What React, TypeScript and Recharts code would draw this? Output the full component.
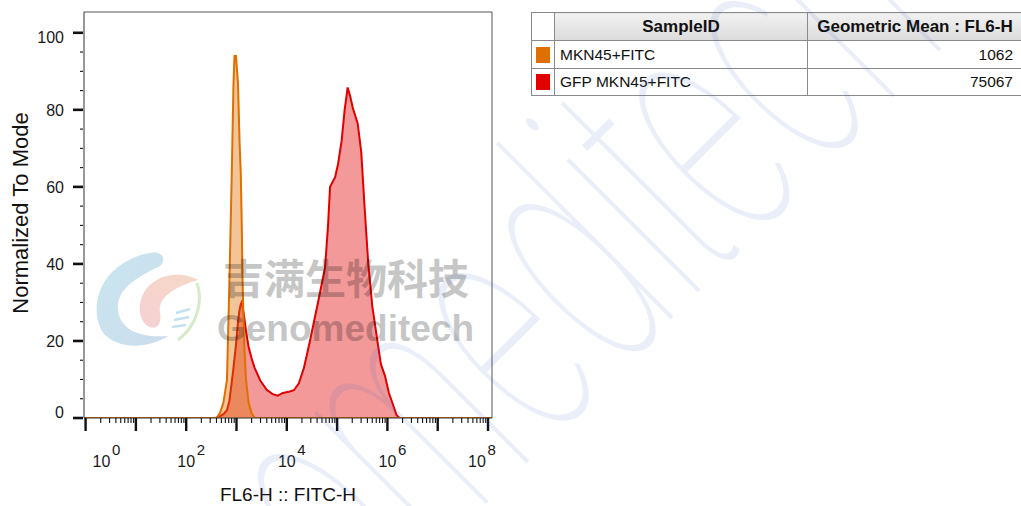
import React from "react";
import { AreaChart, Area, XAxis, YAxis, ReferenceLine } from "recharts";

// FL6-H :: FITC-H channel values (log axis) and the normalized counts
const fitcH = [
  0.93, 398, 468, 550, 646, 724, 813, 871, 912, 977,
  1072, 1148, 1216, 1274, 1318, 1413, 1549, 1738, 1995, 2291,
  2951, 3981, 5248, 6607, 8318, 10965, 13804, 17378, 21878, 28840,
  41687, 57544, 66069, 72444, 79433, 91201, 104713, 123027, 141254, 162181,
  181970, 204174, 257040, 301995, 354813, 416869, 501187, 616595, 741310, 891251,
  1071519, 1288250, 1513561, 1737801, 120226443,
];
const mknFitc = [
  0, 0, 1.3, 4, 9.8, 35.7, 66, 86.8, 94, 94,
  86.8, 72, 63.5, 50, 35.7, 20, 9.8, 4, 1.3, 0,
  0, 0, 0, 0, 0, 0, 0, 0, 0, 0,
  0, 0, 0, 0, 0, 0, 0, 0, 0, 0,
  0, 0, 0, 0, 0, 0, 0, 0, 0, 0,
  0, 0, 0, 0, 0,
];
const gfpMknFitc = [
  0, 0, 0.5, 1, 2, 4.5, 9.8, 13, 15.5, 19,
  25, 28, 29.5, 30.1, 29, 26.5, 22.5, 18.5, 15.5, 13,
  9.8, 7.3, 6.2, 5.8, 6.5, 6.8, 7.2, 9, 13, 20,
  30, 39, 50, 60, 61, 62.5, 66, 72, 80, 85.8,
  83.5, 80.6, 76.4, 69, 54, 40, 29, 21, 14, 11,
  6.5, 3.5, 0.8, 0, 0,
];

const sampleIds = ["MKN45+FITC", "GFP MKN45+FITC"];
const geometricMeans = [1062, 75067];
const sampleColors = ["#DF6F00", "#E00000"];

const xDecades = [1, 10, 100, 1000, 1e4, 1e5, 1e6, 1e7, 1e8];
const xMinorSteps = [2, 3, 4, 5, 6, 7, 8, 9];
const xLabelExponents = [0, 2, 4, 6, 8];
const yTicks = [0, 5, 10, 15, 20, 25, 30, 35, 40, 45, 50, 55, 60, 65, 70, 75, 80, 85, 90, 95, 100];
const yLabelled = [0, 20, 40, 60, 80, 100];

const X_DOMAIN: [number, number] = [0.93, 1.2e8];
const Y_DOMAIN: [number, number] = [0, 105.4];
const FONT = "'Liberation Sans', Arial, sans-serif";

const data = fitcH.map((fitc, i) => ({ fitc, mkn: mknFitc[i], gfp: gfpMknFitc[i] }));
const xTicks = xDecades.flatMap((d, i) => (i < xDecades.length - 1 ? [d, ...xMinorSteps.map((s) => s * d)] : [d]));

function XTick(props: any) {
  const { x, y, payload } = props;
  const exp = xDecades.indexOf(payload.value);
  const major = exp >= 0;
  const lx = Math.min(Math.max(x, 101.5), 477);
  return <g>
    <line x1={x} x2={x} y1={y} y2={y + (major ? 13 : 5)} stroke="#111" strokeWidth={major ? 2.4 : 1.1}/>
    {xLabelExponents.includes(exp) ? <>
      <text x={lx} y={y + 49} textAnchor="middle" fontSize={16} fontFamily={FONT} fill="#1a1a1a">10</text>
      <text x={lx + 10.5} y={y + 37} fontSize={15} fontFamily={FONT} fill="#1a1a1a">{exp}</text>
    </> : null}
  </g>;
}

function YTick(props: any) {
  const { x, y, payload } = props;
  const v = payload.value;
  const major = yLabelled.includes(v);
  const dy = v === 0 ? 0 : v === 100 ? 10 : 6;
  return <g>
    <line x1={x - 1} x2={x - (major ? 11 : 4)} y1={y} y2={y} stroke="#111" strokeWidth={major ? 2.6 : 1.1}/>
    {major ? <text x={x - 20} y={y + dy} textAnchor="end" fontSize={16} fontFamily={FONT} fill="#1a1a1a">{v}</text> : null}
  </g>;
}

function Histogram() {
  return <AreaChart width={500} height={506} data={data} margin={{ top: 12, right: 8, left: 0, bottom: 0 }}>
    <XAxis dataKey="fitc" type="number" scale="log" domain={X_DOMAIN} allowDataOverflow ticks={xTicks} interval={0}
      tick={<XTick/>} tickLine={false} tickSize={0} tickMargin={0} height={88} axisLine={{ stroke: "#333" }}
      label={{ content: (p: any) => <text x={p.viewBox.x + p.viewBox.width / 2} y={501} textAnchor="middle" fontSize={19} fontFamily={FONT} fill="#111">FL6-H :: FITC-H</text> }}/>
    <YAxis type="number" domain={Y_DOMAIN} allowDataOverflow ticks={yTicks} interval={0}
      tick={<YTick/>} tickLine={false} tickSize={0} tickMargin={0} width={84} axisLine={{ stroke: "#333" }}
      label={{ content: (p: any) => {
        const cx = 20, cy = p.viewBox.y + p.viewBox.height / 2 - 2;
        return <text x={cx} y={cy} transform={`rotate(-90 ${cx} ${cy})`} textAnchor="middle" dominantBaseline="central" fontSize={22} fontFamily={FONT} fill="#111">Normalized To Mode</text>;
      } }}/>
    <ReferenceLine y={Y_DOMAIN[1]} stroke="#555" strokeWidth={1}/>
    <ReferenceLine x={X_DOMAIN[1]} stroke="#555" strokeWidth={1}/>
    <Area dataKey="gfp" name={sampleIds[1]} type="linear" stroke={sampleColors[1]} strokeWidth={2} fill={sampleColors[1]} fillOpacity={0.4} isAnimationActive={false} dot={false}/>
    <Area dataKey="mkn" name={sampleIds[0]} type="linear" stroke={sampleColors[0]} strokeWidth={2} fill={sampleColors[0]} fillOpacity={0.4} isAnimationActive={false} dot={false}/>
  </AreaChart>;
}

function StatsTable() {
  const cell: React.CSSProperties = { border: "1px solid #8a8a8a", padding: 0, height: 26.7, boxSizing: "border-box" };
  const head: React.CSSProperties = { ...cell, background: "linear-gradient(#f1f1f1, #dcdcdc)", fontSize: 17, whiteSpace: "nowrap" };
  return <table style={{ position: "absolute", left: 531, top: 12, width: 491, borderCollapse: "collapse", fontFamily: FONT, fontSize: 15.5, color: "#111", tableLayout: "fixed" }}>
    <colgroup><col style={{ width: 23 }}/><col style={{ width: 253 }}/><col style={{ width: 215 }}/></colgroup>
    <thead>
      <tr style={{ height: 28 }}>
        <th style={{ ...cell, background: "#fff" }}/>
        <th style={head}>SampleID</th>
        <th style={head}>Geometric Mean : FL6-H</th>
      </tr>
    </thead>
    <tbody>
      {sampleIds.map((id, i) => <tr key={id} style={{ height: i === 0 ? 28 : 27 }}>
        <td style={cell}><div style={{ width: 14, height: 16, margin: "0 auto", background: sampleColors[i] }}/></td>
        <td style={{ ...cell, paddingLeft: 5 }}>{id}</td>
        <td style={{ ...cell, textAlign: "right", paddingRight: 9 }}>{geometricMeans[i]}</td>
      </tr>)}
    </tbody>
  </table>;
}

function Watermark() {
  return <svg width={1021} height={506} style={{ position: "absolute", left: 0, top: 0, pointerEvents: "none" }}>
    <defs>
      <linearGradient id="wmBlue" x1="0" y1="0" x2="1" y2="1"><stop offset="0" stopColor="#bfe3ee"/><stop offset="1" stopColor="#c4d6ea"/></linearGradient>
      <linearGradient id="wmPink" x1="0" y1="1" x2="1" y2="0"><stop offset="0" stopColor="#f4c9cc"/><stop offset="1" stopColor="#f6d2bd"/></linearGradient>
    </defs>
    <g transform="translate(613 377) rotate(-45) scale(0.52 1)" fill="#2f5fc9" opacity={0.1} fontFamily="Inter, 'DejaVu Sans', sans-serif" fontWeight={100} fontSize={340}>
      <text x={0} y={0} textAnchor="end">Genome</text>
      <text x={0} y={0}>ditech</text>
    </g>
    <g opacity={0.85}>
      <path d="M150 253 C160 250 168 258 160 266 C135 278 116 290 118 310 C120 330 140 338 168 336 C150 348 120 350 105 335 C92 320 94 290 112 272 C125 260 140 254 150 253 Z" fill="url(#wmBlue)"/>
      <path d="M198 280 C185 272 160 272 147 288 C136 302 138 322 150 327 C158 330 162 322 160 312 C158 300 170 288 198 280 Z" fill="url(#wmPink)"/>
      <path d="M197 283 C203 300 198 325 178 340" stroke="#cfe8bf" strokeWidth={3} fill="none"/>
      <g stroke="#b9dcef" strokeWidth={2.5}>
        <line x1={176} y1={313} x2={190} y2={309}/>
        <line x1={174} y1={320} x2={189} y2={317}/>
        <line x1={172} y1={327} x2={186} y2={325}/>
      </g>
    </g>
    <g fill="#000" opacity={0.22}>
      <text x={223} y={294} fontSize={41} fontWeight={700} fontFamily="'Noto Sans CJK SC', sans-serif">吉满生物科技</text>
      <text x={217} y={341} fontSize={37} fontWeight={700} fontFamily={FONT}>Genomeditech</text>
    </g>
  </svg>;
}

export default function App() {
  return <div style={{ position: "absolute", left: 0, top: 0, width: 1021, height: 506, background: "#fff", overflow: "hidden" }}>
    <div style={{ position: "absolute", left: 0, top: 0 }}><Histogram/></div>
    <StatsTable/>
    <Watermark/>
  </div>;
}
